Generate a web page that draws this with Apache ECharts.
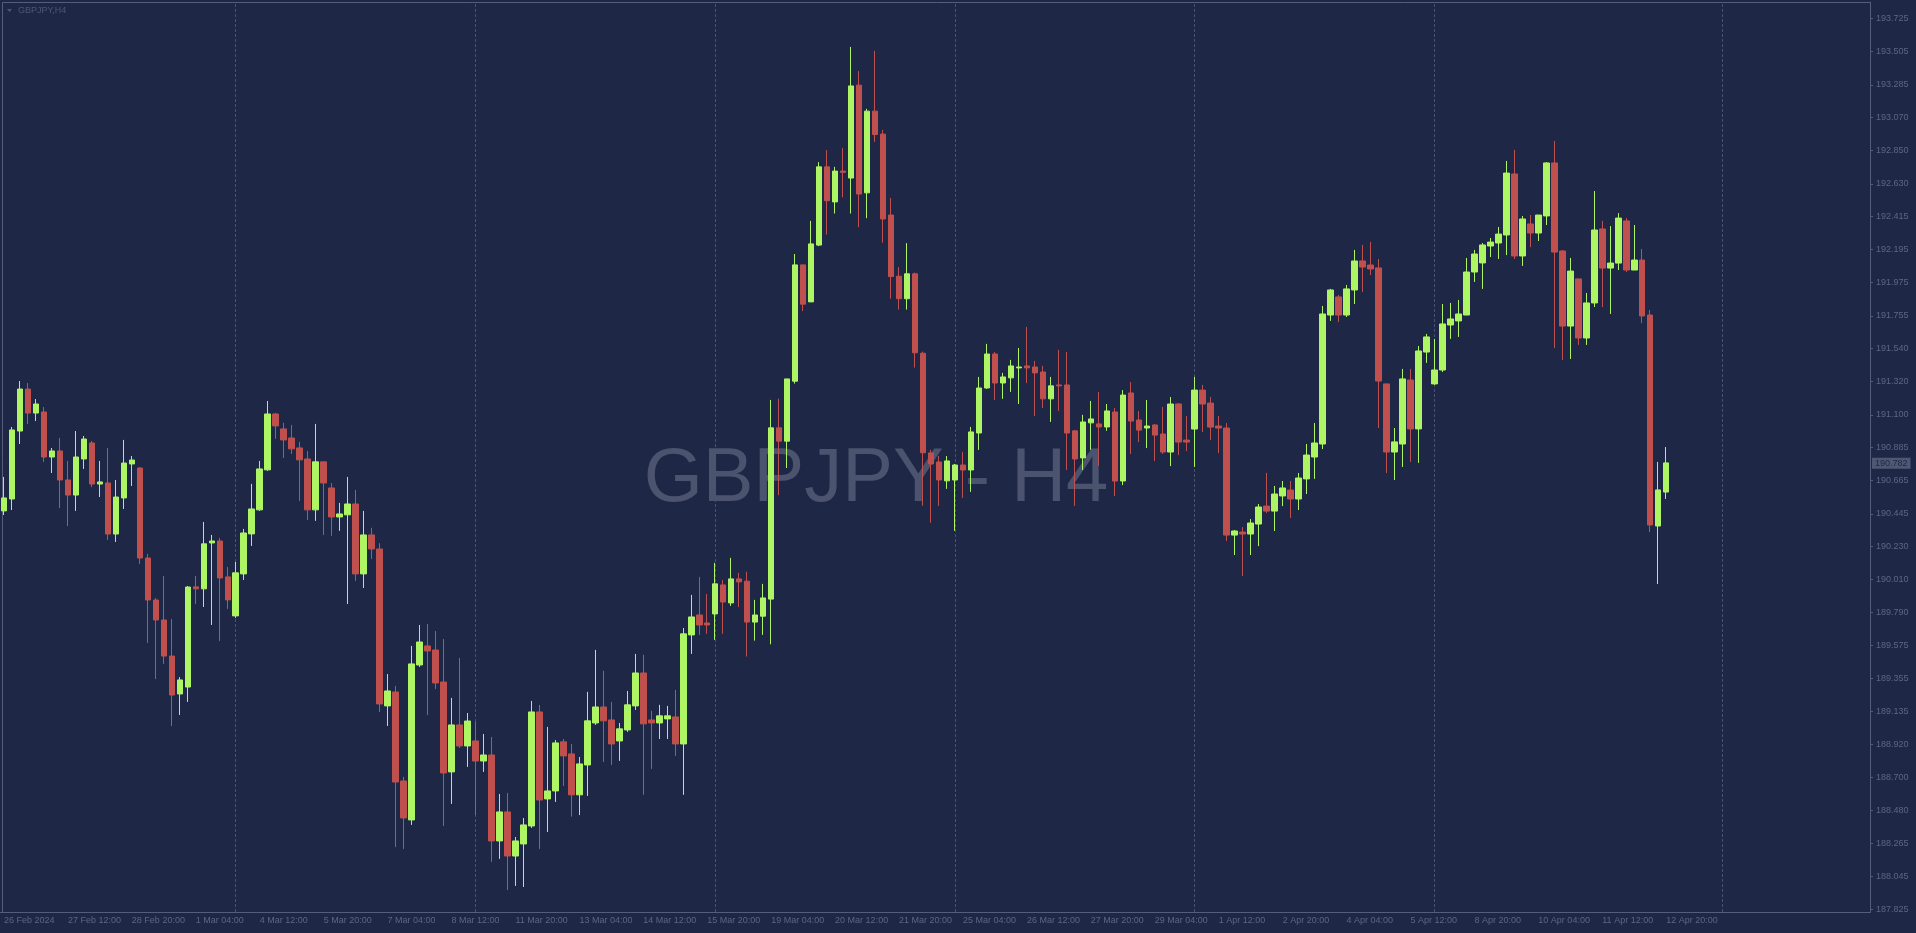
<!DOCTYPE html>
<html>
<head>
<meta charset="utf-8">
<title>GBPJPY H4</title>
<script src="https://cdn.jsdelivr.net/npm/echarts@6/dist/echarts.min.js"></script>
<style>
  html, body { margin: 0; padding: 0; background: #1e2846; }
  #chart { width: 1916px; height: 933px; }
</style>
</head>
<body>
<div id="chart"></div>
<script>
// H4 bars, 26 Feb 2024 04:00 .. 12 Apr 2024 20:00
const opens = [
  190.464,190.543,190.993,191.271,191.112,191.119,190.821,190.861,190.669,190.569,
  190.808,190.914,190.642,190.649,190.311,190.550,190.775,190.748,190.152,189.874,
  189.742,189.503,189.252,189.298,189.961,189.948,190.252,190.265,190.027,189.769,
  190.047,190.312,190.471,190.736,191.106,191.007,190.947,190.881,190.808,190.471,
  190.789,190.616,190.424,190.438,190.510,190.047,190.305,190.212,189.173,189.265,
  188.676,188.418,189.444,189.570,189.543,189.331,188.736,189.047,188.908,188.941,
  188.808,188.848,188.279,188.471,188.179,188.259,188.378,189.133,188.557,188.610,
  188.935,188.855,188.584,188.782,189.060,189.166,189.080,188.941,189.014,189.173,
  189.391,189.080,189.060,189.087,189.100,188.921,189.643,189.775,189.722,189.782,
  189.974,189.855,190.014,189.999,189.728,189.767,189.880,191.014,190.926,191.323,
  192.093,191.848,192.224,192.742,192.510,192.714,192.668,193.283,192.570,193.111,
  192.959,192.423,192.018,191.869,192.034,191.508,190.848,190.788,190.663,190.669,
  190.768,190.735,190.980,191.278,191.503,191.311,191.345,191.411,191.424,191.417,
  191.384,191.206,191.298,191.298,190.994,190.815,191.047,191.040,191.020,191.119,
  190.662,191.245,191.066,191.013,191.033,190.973,190.854,191.172,190.933,191.006,
  191.264,191.178,191.026,191.013,190.304,190.324,190.311,190.377,190.496,190.463,
  190.563,190.602,190.543,190.676,190.821,190.907,191.761,191.881,191.761,191.927,
  192.119,192.092,192.073,191.305,190.854,190.907,191.331,191.007,191.516,191.305,
  191.397,191.695,191.722,191.761,192.046,192.106,192.218,192.238,192.291,192.695,
  192.152,192.364,192.304,192.417,192.768,192.185,191.688,192.000,191.609,191.841,
  192.331,192.072,192.105,192.384,192.059,192.125,191.761,190.364,190.589
];
const closes = [
  190.550,191.000,191.271,191.112,191.172,190.821,190.861,190.669,190.569,190.821,
  190.940,190.642,190.656,190.311,190.556,190.781,190.801,190.152,189.874,189.742,
  189.503,189.245,189.345,189.960,189.948,190.246,190.265,190.020,189.875,190.054,
  190.318,190.477,190.742,191.106,191.027,190.934,190.875,190.802,190.471,190.789,
  190.649,190.424,190.444,190.510,190.047,190.305,190.212,189.186,189.272,188.669,
  188.431,189.451,189.596,189.537,189.325,188.729,189.047,188.908,189.073,188.808,
  188.848,188.279,188.471,188.179,188.279,188.385,189.133,188.550,188.610,188.928,
  188.842,188.584,188.789,189.074,189.166,189.074,188.921,189.021,189.180,189.391,
  189.054,189.060,189.107,189.107,188.921,189.650,189.762,189.709,189.709,189.981,
  189.861,190.014,189.994,189.728,189.775,189.888,191.014,190.926,191.338,192.093,
  191.833,192.232,192.742,192.518,192.714,192.706,193.278,192.562,193.111,192.956,
  192.397,192.016,191.869,192.034,191.511,190.849,190.775,190.669,190.795,190.768,
  190.735,190.987,191.278,191.503,191.311,191.351,191.424,191.417,191.411,191.378,
  191.206,191.292,191.292,190.980,190.808,191.053,191.073,191.020,191.126,190.662,
  191.231,191.059,190.999,191.026,190.966,190.854,191.172,190.920,190.920,191.264,
  191.172,191.019,191.013,190.304,190.331,190.311,190.384,190.490,190.463,190.576,
  190.616,190.543,190.682,190.834,190.914,191.768,191.927,191.761,191.934,192.119,
  192.079,192.066,191.324,190.854,190.921,191.338,191.007,191.523,191.616,191.397,
  191.702,191.735,191.768,192.046,192.165,192.225,192.244,192.297,192.701,192.152,
  192.397,192.304,192.423,192.768,192.178,191.688,192.052,191.609,191.841,192.324,
  192.072,192.105,192.403,192.059,192.125,191.755,190.371,190.603,190.782
];
const lows = [
  190.437,190.470,190.907,191.040,191.059,190.788,190.715,190.483,190.364,190.464,
  190.742,190.622,190.556,190.272,190.258,190.477,190.629,190.113,189.590,189.351,
  189.451,189.040,189.113,189.199,189.848,189.828,189.709,189.603,189.815,189.756,
  190.007,190.232,190.464,190.729,190.941,190.815,190.841,190.530,190.404,190.398,
  190.305,190.299,190.332,189.848,190.001,189.954,190.146,189.133,189.040,188.239,
  188.226,188.385,189.431,189.113,189.285,188.378,188.524,188.894,188.769,188.451,
  188.736,188.140,188.160,187.954,187.981,187.974,188.365,188.226,188.338,188.537,
  188.643,188.440,188.450,188.577,189.047,188.802,188.782,188.809,189.001,189.146,
  188.584,188.756,188.954,188.954,188.842,188.584,189.517,189.643,189.650,189.610,
  189.650,189.835,189.828,189.500,189.605,189.643,189.581,190.568,190.748,191.307,
  191.787,191.848,192.217,192.294,192.433,192.541,192.433,192.343,192.402,192.907,
  192.240,191.869,191.797,191.797,191.413,190.498,190.385,190.497,190.610,190.332,
  190.550,190.590,190.868,191.272,191.199,191.206,191.252,191.172,191.311,191.093,
  191.146,191.053,191.126,190.735,190.497,190.735,190.868,190.762,190.994,190.563,
  190.635,190.841,190.920,190.880,190.794,190.841,190.761,190.834,190.861,190.755,
  190.986,190.933,190.847,190.265,190.172,190.033,190.172,190.231,190.450,190.331,
  190.496,190.417,190.470,190.576,190.676,190.874,191.722,191.715,191.748,191.834,
  191.914,192.026,191.013,190.715,190.669,190.755,190.788,190.782,191.444,191.298,
  191.384,191.603,191.616,191.761,191.980,191.934,192.145,192.132,192.158,192.132,
  192.086,192.211,192.251,192.357,191.543,191.463,191.470,191.563,191.563,191.814,
  191.814,191.768,192.059,192.046,192.059,191.708,190.324,189.980,190.543
];
const highs = [
  190.689,191.020,191.324,191.311,191.205,191.152,190.881,190.947,190.795,190.993,
  190.960,190.927,190.795,190.881,190.669,190.934,190.828,190.755,190.179,189.888,
  190.033,189.748,189.364,189.967,190.034,190.391,190.305,190.285,190.093,190.126,
  190.345,190.643,190.795,191.192,191.113,191.047,191.033,190.921,190.861,191.040,
  190.789,190.649,190.517,190.689,190.603,190.464,190.352,190.250,189.384,189.305,
  188.703,189.570,189.709,189.716,189.669,189.616,189.226,189.490,189.126,189.067,
  188.987,188.967,188.590,188.597,188.305,188.431,189.206,189.179,189.034,188.947,
  188.954,188.921,188.835,189.266,189.544,189.405,189.199,189.060,189.272,189.517,
  189.511,189.140,189.180,189.173,189.279,189.689,189.908,190.027,189.914,190.120,
  190.007,190.153,190.054,190.061,189.875,189.981,191.199,191.207,191.338,192.165,
  192.093,192.384,192.773,192.853,192.742,192.866,193.536,193.376,193.126,193.510,
  192.987,192.536,192.078,192.237,192.042,191.519,190.868,190.828,190.828,190.775,
  190.855,191.020,191.351,191.570,191.517,191.378,191.464,191.543,191.682,191.457,
  191.424,191.351,191.530,191.517,191.000,191.100,191.192,191.252,191.172,191.145,
  191.264,191.317,191.125,191.198,191.039,191.152,191.218,191.178,191.092,191.351,
  191.298,191.218,191.092,191.046,190.338,190.357,190.410,190.510,190.715,190.629,
  190.662,190.662,190.715,190.907,191.046,191.821,191.934,191.894,191.960,192.192,
  192.225,192.245,192.132,191.305,191.013,191.404,191.404,191.556,191.636,191.603,
  191.834,191.841,191.861,192.139,192.192,192.238,192.271,192.344,192.781,192.854,
  192.417,192.423,192.423,192.774,192.913,192.191,192.139,192.000,191.907,192.582,
  192.384,192.350,192.436,192.403,192.357,192.198,191.794,190.788,190.887
];

// one label every 8 bars, starting at bar 0
const timeLabels = [
  '26 Feb 2024','27 Feb 12:00','28 Feb 20:00','1 Mar 04:00','4 Mar 12:00','5 Mar 20:00',
  '7 Mar 04:00','8 Mar 12:00','11 Mar 20:00','13 Mar 04:00','14 Mar 12:00','15 Mar 20:00',
  '19 Mar 04:00','20 Mar 12:00','21 Mar 20:00','25 Mar 04:00','26 Mar 12:00','27 Mar 20:00',
  '29 Mar 04:00','1 Apr 12:00','2 Apr 20:00','4 Apr 04:00','5 Apr 12:00','8 Apr 20:00',
  '10 Apr 04:00','11 Apr 12:00','12 Apr 20:00'
];
const priceLabels = [
  '193.725','193.505','193.285','193.070','192.850','192.630','192.415','192.195','191.975',
  '191.755','191.540','191.320','191.100','190.885','190.665','190.445','190.230','190.010',
  '189.790','189.575','189.355','189.135','188.920','188.700','188.480','188.265','188.045','187.825'
];
const separatorBars = [29, 59, 89, 119, 149, 179, 215];
const lastPrice = 190.782;

// empty slots on the right (chart shift)
const slotCount = 234;
const categories = Array.from({ length: slotCount }, (_, i) => String(i));
const candles = opens.map((o, i) => [o, closes[i], lows[i], highs[i]]);

const axisColor = '#555d7b';
const textColor = '#5d6585';
const fontFamily = '"Liberation Sans", Arial, sans-serif';

const chart = echarts.init(document.getElementById('chart'));
chart.setOption({
  backgroundColor: '#1e2846',
  animation: false,
  grid: { left: 0, right: 46, top: 2, bottom: 21 },
  xAxis: {
    type: 'category',
    data: categories,
    boundaryGap: true,
    axisLine: { lineStyle: { color: axisColor } },
    axisTick: {
      alignWithLabel: true,
      length: 3,
      interval: (i) => i % 8 === 0 && i / 8 < timeLabels.length,
      lineStyle: { color: axisColor }
    },
    axisLabel: {
      interval: (i) => i % 8 === 0 && i / 8 < timeLabels.length,
      formatter: (v, i) => timeLabels[i / 8] || '',
      align: 'left',
      margin: 4,
      color: textColor,
      fontSize: 9,
      fontFamily: fontFamily
    },
    splitLine: { show: false }
  },
  yAxis: {
    type: 'value',
    position: 'right',
    scale: true,
    min: 187.8084,
    max: 193.8336,
    axisLine: { show: true, lineStyle: { color: axisColor } },
    axisTick: {
      show: true,
      length: 3,
      customValues: priceLabels.map(Number),
      lineStyle: { color: axisColor }
    },
    axisLabel: {
      customValues: priceLabels.map(Number),
      formatter: (v) => v.toFixed(3),
      margin: 6,
      color: textColor,
      fontSize: 9,
      fontFamily: fontFamily
    },
    splitLine: { show: false }
  },
  graphic: [
    {
      type: 'rect', silent: true, z: 1,
      shape: { x: 2.5, y: 2.5, width: 1868, height: 910 },
      style: { fill: 'none', stroke: axisColor, lineWidth: 1 }
    },
    {
      type: 'polygon', silent: true,
      shape: { points: [[7, 9], [12, 9], [9.5, 12]] },
      style: { fill: '#4e5675' }
    },
    {
      type: 'text', silent: true, x: 18, y: 10.5,
      style: {
        text: 'GBPJPY,H4', fill: '#4e5675', font: '9px ' + fontFamily,
        textAlign: 'left', textVerticalAlign: 'middle'
      }
    },
    {
      type: 'text', silent: true, x: 876, y: 480, z: 0,
      style: {
        text: 'GBPJPY - H4', fill: '#4b536e', font: '76px ' + fontFamily,
        textAlign: 'center', textVerticalAlign: 'middle'
      }
    }
  ],
  series: [
    {
      // period separators, kept behind the candles
      type: 'line',
      data: [],
      z: 1,
      silent: true,
      markLine: {
        z: 0,
        silent: true,
        symbol: ['none', 'none'],
        label: { show: false },
        lineStyle: { color: '#4a5270', type: [3, 2], width: 1 },
        data: separatorBars.map((b) => ({ xAxis: String(b) }))
      }
    },
    {
      type: 'candlestick',
      data: candles,
      barWidth: 6,
      z: 3,
      itemStyle: {
        color: '#adf562',
        color0: '#c0504d',
        borderColor: '#adf562',
        borderColor0: '#c0504d',
        borderWidth: 1
      },
      markLine: {
        silent: true,
        symbol: ['none', 'none'],
        data: [{
          yAxis: lastPrice,
          lineStyle: { color: 'rgba(0,0,0,0)', width: 1 },
          label: {
            show: true,
            position: 'end',
            distance: 2,
            formatter: lastPrice.toFixed(3),
            backgroundColor: '#4f5773',
            color: '#1e2846',
            padding: [1, 3, 1, 3],
            fontSize: 9,
            fontFamily: fontFamily
          }
        }]
      }
    }
  ]
});
</script>
</body>
</html>
